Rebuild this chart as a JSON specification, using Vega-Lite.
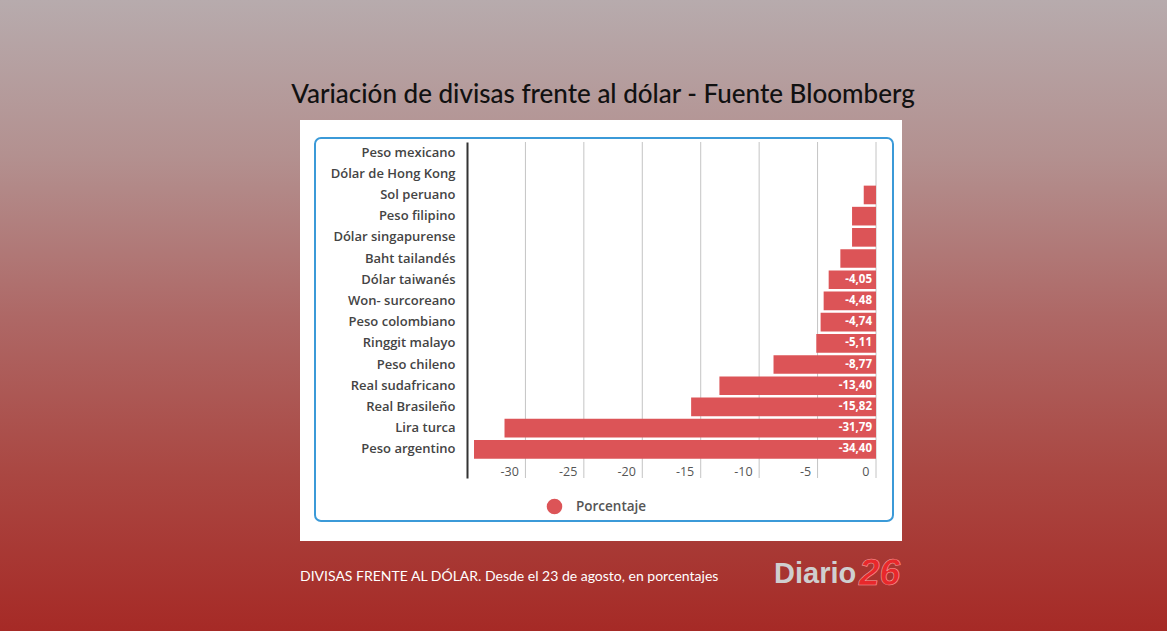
{
  "$schema": "https://vega.github.io/schema/vega-lite/v6.json",
  "width": 409,
  "height": 336,
  "autosize": {"type": "none"},
  "padding": {"left": 467, "top": 142, "right": 291, "bottom": 153},
  "background": "#ad5a56",
  "config": {"view": {"stroke": null}},
  "datasets": {
    "divisas": [
      {"divisa": "Peso mexicano", "variacion": 0, "etiqueta": ""},
      {"divisa": "Dólar de Hong Kong", "variacion": 0, "etiqueta": ""},
      {"divisa": "Sol peruano", "variacion": -1.05, "etiqueta": ""},
      {"divisa": "Peso filipino", "variacion": -2.05, "etiqueta": ""},
      {"divisa": "Dólar singapurense", "variacion": -2.05, "etiqueta": ""},
      {"divisa": "Baht tailandés", "variacion": -3.05, "etiqueta": ""},
      {"divisa": "Dólar taiwanés", "variacion": -4.05, "etiqueta": "-4,05"},
      {"divisa": "Won- surcoreano", "variacion": -4.48, "etiqueta": "-4,48"},
      {"divisa": "Peso colombiano", "variacion": -4.74, "etiqueta": "-4,74"},
      {"divisa": "Ringgit malayo", "variacion": -5.11, "etiqueta": "-5,11"},
      {"divisa": "Peso chileno", "variacion": -8.77, "etiqueta": "-8,77"},
      {"divisa": "Real sudafricano", "variacion": -13.40, "etiqueta": "-13,40"},
      {"divisa": "Real Brasileño", "variacion": -15.82, "etiqueta": "-15,82"},
      {"divisa": "Lira turca", "variacion": -31.79, "etiqueta": "-31,79"},
      {"divisa": "Peso argentino", "variacion": -34.40, "etiqueta": "-34,40"}
    ],
    "marcas": [
      {"t": -30}, {"t": -25}, {"t": -20}, {"t": -15}, {"t": -10}, {"t": -5}, {"t": 0}
    ],
    "uno": [{}]
  },
  "layer": [
    {
      "data": {"name": "uno"},
      "mark": {
        "type": "rect",
        "fill": {
          "gradient": "linear", "x1": 0, "y1": 0, "x2": 0, "y2": 1,
          "stops": [
            {"offset": 0, "color": "#b7abad"},
            {"offset": 0.25, "color": "#b3908f"},
            {"offset": 0.5, "color": "#ae6866"},
            {"offset": 0.75, "color": "#aa4742"},
            {"offset": 1, "color": "#a62a26"}
          ]
        }
      },
      "encoding": {"x": {"value": -467}, "x2": {"value": 700}, "y": {"value": -142}, "y2": {"value": 489}}
    },
    {
      "data": {"name": "uno"},
      "mark": {"type": "rect", "fill": "#ffffff"},
      "encoding": {"x": {"value": -167}, "x2": {"value": 435}, "y": {"value": -22}, "y2": {"value": 399}}
    },
    {
      "data": {"name": "uno"},
      "mark": {"type": "rect", "fill": null, "fillOpacity": 0, "stroke": "#3b9ad8", "strokeWidth": 2, "cornerRadius": 6},
      "encoding": {"x": {"value": -152}, "x2": {"value": 426}, "y": {"value": -4}, "y2": {"value": 379}}
    },
    {
      "data": {"name": "marcas"},
      "mark": {"type": "rule", "color": "#c4c4c4", "strokeWidth": 1},
      "encoding": {"x": {"field": "t", "type": "quantitative"}}
    },
    {
      "data": {"name": "divisas"},
      "mark": {"type": "bar", "orient": "horizontal"},
      "encoding": {
        "y": {
          "field": "divisa", "type": "nominal", "sort": null,
          "scale": {"paddingInner": 0.12, "paddingOuter": 0.486, "align": 0.06},
          "axis": {
            "title": null, "ticks": false, "domain": true, "domainColor": "#333333", "domainWidth": 2,
            "labelPadding": 12, "labelFont": "Open Sans", "labelFontWeight": 600, "labelFontSize": 13,
            "labelColor": "#444444", "zindex": 1
          }
        },
        "x": {
          "field": "variacion", "type": "quantitative",
          "scale": {"domain": [-35, 0], "nice": false, "zero": true},
          "axis": {
            "title": null, "grid": false, "ticks": false, "tickSize": 0, "domain": false,
            "values": [-30, -25, -20, -15, -10, -5, 0],
            "labelExpr": "'' + datum.value",
            "labelAlign": "right", "labelOffset": -7, "labelBaseline": "middle", "labelPadding": -7,
            "labelFont": "Open Sans", "labelFontSize": 12.5, "labelColor": "#555555", "zindex": 1
          }
        },
        "color": {
          "datum": "Porcentaje", "type": "nominal",
          "scale": {"range": ["#dc5457"]},
          "legend": {
            "title": null, "orient": "none", "legendX": 79, "legendY": 356,
            "symbolType": "circle", "symbolSize": 240, "labelOffset": 13,
            "labelFont": "Open Sans", "labelFontWeight": 600, "labelFontSize": 13.5, "labelColor": "#555555"
          }
        }
      }
    },
    {
      "data": {"name": "divisas"},
      "mark": {"type": "text", "align": "right", "baseline": "middle", "dx": -4, "color": "#ffffff", "font": "Open Sans", "fontWeight": "bold", "fontSize": 11.5},
      "encoding": {
        "y": {"field": "divisa", "type": "nominal", "sort": null},
        "x": {"datum": 0},
        "text": {"field": "etiqueta"}
      }
    },
    {
      "data": {"name": "uno"},
      "mark": {"type": "text", "text": "Variación de divisas frente al dólar - Fuente Bloomberg", "align": "center", "baseline": "middle", "font": "Lato", "fontSize": 26, "fontWeight": 500, "color": "#111111"},
      "encoding": {"x": {"value": 136}, "y": {"value": -47}}
    },
    {
      "data": {"name": "uno"},
      "mark": {"type": "text", "text": "DIVISAS FRENTE AL DÓLAR. Desde el 23 de agosto, en porcentajes", "align": "left", "baseline": "middle", "font": "Lato", "fontSize": 14, "color": "#ffffff"},
      "encoding": {"x": {"value": -167}, "y": {"value": 435}}
    },
    {
      "data": {"name": "uno"},
      "mark": {"type": "text", "text": "Diario", "align": "left", "baseline": "alphabetic", "font": "Liberation Sans", "fontWeight": "bold", "fontSize": 29, "color": "#cfcfcf"},
      "encoding": {"x": {"value": 307}, "y": {"value": 441}}
    },
    {
      "data": {"name": "uno"},
      "mark": {"type": "text", "text": "26", "align": "left", "baseline": "alphabetic", "font": "Liberation Sans", "fontWeight": "bold", "fontStyle": "italic", "fontSize": 37, "color": "#e8282b", "stroke": "#f6a0a0", "strokeWidth": 0.6},
      "encoding": {"x": {"value": 392}, "y": {"value": 443}}
    }
  ]
}
